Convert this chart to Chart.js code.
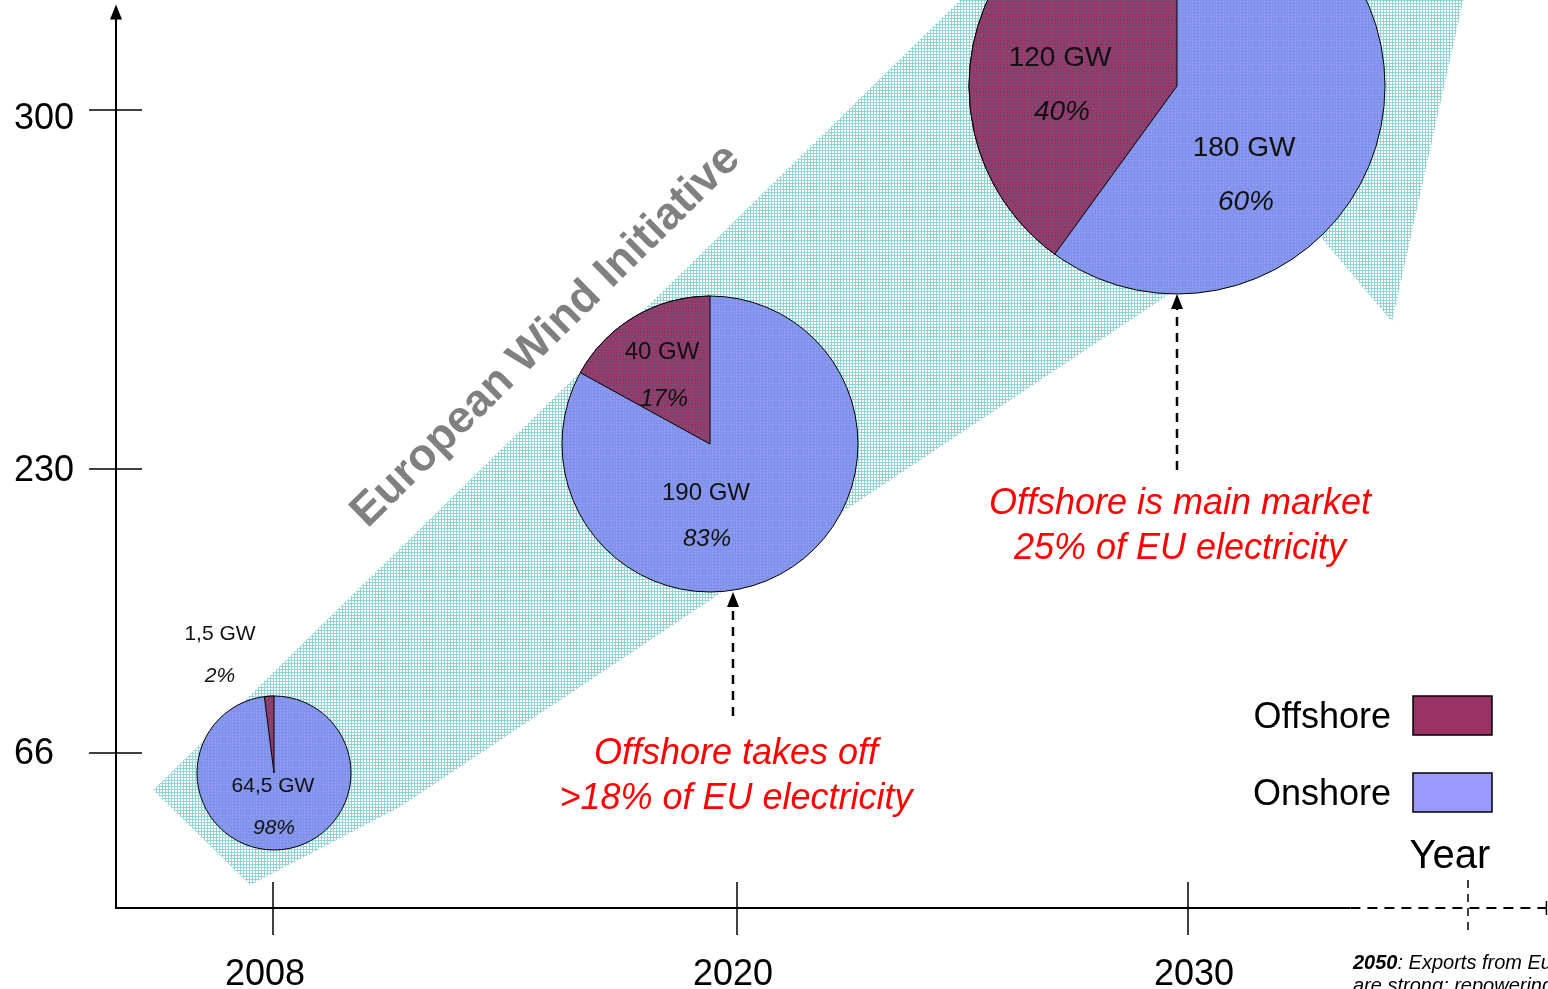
<!DOCTYPE html>
<html>
<head>
<meta charset="utf-8">
<script src="https://cdn.jsdelivr.net/npm/chart.js@4.4.1/dist/chart.umd.min.js"></script>
<style>
  html, body { margin: 0; padding: 0; background: #fff; overflow: hidden; }
</style>
</head>
<body>
<canvas id="windChart" width="1548" height="989"></canvas>
<script>
// ---- data ----
const years = [2008, 2020, 2030];
const yearLabels = ['2008', '2020', '2030'];
const totalGW = [66, 230, 300];
const offshoreGW = [1.5, 40, 120];
const onshoreGW = [64.5, 190, 180];
const offshoreShare = [2, 17, 40];
const onshoreShare = [98, 83, 60];
const yTicks = [66, 230, 300];
const seriesNames = ['Offshore', 'Onshore'];
const calloutYears = [2020, 2030];
const calloutText = [
  ['Offshore takes off', '>18% of EU electricity'],
  ['Offshore is main market', '25% of EU electricity']
];
const bannerText = 'European Wind Initiative';
const farYear = 2050;
const farNote = [': Exports from Europe', 'are strong; repowering'];

// outline of the big "growth" arrow, in (year, GW) units
const bandX = [2004.90, 2007.41, 2011.28, 2037.79, 2044.57, 2050.93, 2026.76];
const bandY = [50.2, 9.8, 43.0, 280.7, 258.7, 337.0, 337.0];

// ---- styles / layout ----
const FONT = '"Liberation Sans", Arial, Helvetica, sans-serif';
const offColor = '#993366';
const onColor = '#9999ff';

const pieStyle = {
  radius: [77, 148, 208],
  nudge: [[1, 20], [-27, -25], [-11, -24]],
  font: [21, 24, 28],
  // offsets from pie centre: offshore GW, offshore %, onshore GW, onshore %
  labels: [
    [[-54, -139], [-54, -97], [-1, 13], [0, 55]],
    [[-48, -92], [-46, -45], [-4, 49], [-3, 95]],
    [[-117, -28], [-115, 26], [67, 62], [69, 116]]
  ]
};
const calloutStyle = [
  { arrowDx: -4, arrowLen: 124, textDx: -1, gap: 48 },
  { arrowDx: -11, arrowLen: 176, textDx: -8, gap: 44 }
];
const axisStyle = {
  yAxisYear: 2003.94, yTop: 320, solidTo: 2041.6, dashedTo: 2055.6, labelX: 14,
  yLabelDy: [-1, 0, 7], xLabelDx: [-8, -4, 6]
};

// piecewise scale: the original axes are schematic, not linear
class PiecewiseScale extends Chart.LinearScale {
  static id = 'piecewise';
  static defaults = {};
  getPixelForValue(value) {
    const v = this.options.anchors.values, p = this.options.anchors.pixels;
    let i = 0;
    while (i < v.length - 2 && value > v[i + 1]) i++;
    const t = (value - v[i]) / (v[i + 1] - v[i]);
    return p[i] + t * (p[i + 1] - p[i]);
  }
  getValueForPixel(pixel) {
    const v = this.options.anchors.values, p = this.options.anchors.pixels;
    const dir = p[1] > p[0] ? 1 : -1;
    let i = 0;
    while (i < p.length - 2 && (pixel - p[i + 1]) * dir > 0) i++;
    const t = (pixel - p[i]) / (p[i + 1] - p[i]);
    return v[i] + t * (v[i + 1] - v[i]);
  }
}
Chart.register(PiecewiseScale);

// small-grid texture, optionally over a solid base colour
function makeHatch(base, grid) {
  const c = document.createElement('canvas');
  c.width = 3; c.height = 3;
  const g = c.getContext('2d');
  if (base) {
    g.fillStyle = base;
    g.fillRect(0, 0, 3, 3);
  }
  g.fillStyle = grid;
  g.fillRect(0, 0, 3, 1);
  g.fillRect(0, 1, 1, 2);
  return g.createPattern(c, 'repeat');
}
const bandFill = makeHatch(null, 'rgba(60,175,175,0.55)');
const onFill = makeHatch('#9494fa', 'rgba(40,150,160,0.27)');
const offFill = makeHatch(offColor, 'rgba(40,150,160,0.22)');

const fmt = n => String(n).replace('.', ',');

const pieNudge = {
  id: 'pieNudge',
  afterDatasetsUpdate(chart) {
    chart.getSortedVisibleDatasetMetas().forEach(meta => {
      if (meta.type !== 'bubble') return;
      meta.data.forEach((el, i) => {
        el.x += pieStyle.nudge[i][0];
        el.y += pieStyle.nudge[i][1];
      });
    });
  }
};

const offshoreSlices = {
  id: 'offshoreSlices',
  afterDatasetDraw(chart, args) {
    if (args.meta.type !== 'bubble') return;
    const ctx = chart.ctx;
    args.meta.data.forEach((el, i) => {
      const r = el.options.radius;
      const a0 = -Math.PI / 2;
      const a1 = a0 - 2 * Math.PI * offshoreShare[i] / 100;
      ctx.save();
      ctx.beginPath();
      ctx.moveTo(el.x, el.y);
      ctx.arc(el.x, el.y, r, a0, a1, true);
      ctx.closePath();
      ctx.fillStyle = offFill;
      ctx.fill();
      ctx.lineWidth = 1;
      ctx.strokeStyle = '#000';
      ctx.stroke();
      ctx.restore();
    });
  }
};

function dashedArrow(ctx, x, yTop, yBottom) {
  ctx.save();
  ctx.strokeStyle = '#000';
  ctx.lineWidth = 2.5;
  ctx.setLineDash([9, 7]);
  ctx.beginPath();
  ctx.moveTo(x, yBottom);
  ctx.lineTo(x, yTop + 12);
  ctx.stroke();
  ctx.setLineDash([]);
  ctx.fillStyle = '#000';
  ctx.beginPath();
  ctx.moveTo(x, yTop);
  ctx.lineTo(x - 6, yTop + 15);
  ctx.lineTo(x + 6, yTop + 15);
  ctx.closePath();
  ctx.fill();
  ctx.restore();
}

const decorations = {
  id: 'decorations',
  afterDatasetsDraw(chart) {
    const ctx = chart.ctx;
    const xs = chart.scales.x, ys = chart.scales.y;
    const axisY = ys.getPixelForValue(0);
    const axisX = xs.getPixelForValue(axisStyle.yAxisYear);
    const pies = chart.getDatasetMeta(0).data;

    ctx.save();
    // pie labels
    pies.forEach((el, i) => {
      const off = pieStyle.labels[i];
      const fs = pieStyle.font[i];
      const texts = [fmt(offshoreGW[i]) + ' GW', offshoreShare[i] + '%', fmt(onshoreGW[i]) + ' GW', onshoreShare[i] + '%'];
      ctx.fillStyle = '#111';
      ctx.textAlign = 'center';
      ctx.textBaseline = 'middle';
      texts.forEach((t, k) => {
        ctx.font = (k % 2 ? 'italic ' : '') + fs + 'px ' + FONT;
        ctx.fillText(t, el.x + off[k][0], el.y + off[k][1]);
      });
    });

    // banner
    ctx.save();
    ctx.translate(546, 336);
    ctx.rotate(-44.5 * Math.PI / 180);
    ctx.font = 'bold 45px ' + FONT;
    ctx.fillStyle = '#808080';
    ctx.textAlign = 'center';
    ctx.textBaseline = 'middle';
    ctx.fillText(bannerText, 0, 0);
    ctx.restore();

    // axes
    ctx.strokeStyle = '#000';
    ctx.fillStyle = '#000';
    ctx.lineWidth = 2;
    const topY = ys.getPixelForValue(axisStyle.yTop);
    ctx.beginPath();
    ctx.moveTo(axisX, axisY + 1);
    ctx.lineTo(axisX, topY + 8);
    ctx.moveTo(axisX, axisY);
    ctx.lineTo(xs.getPixelForValue(axisStyle.solidTo), axisY);
    ctx.stroke();
    ctx.beginPath();
    ctx.moveTo(axisX, topY - 3);
    ctx.lineTo(axisX - 6, topY + 12);
    ctx.lineTo(axisX + 6, topY + 12);
    ctx.closePath();
    ctx.fill();

    ctx.save();
    ctx.setLineDash([10, 7]);
    ctx.beginPath();
    ctx.moveTo(xs.getPixelForValue(axisStyle.solidTo), axisY);
    ctx.lineTo(xs.getPixelForValue(axisStyle.dashedTo), axisY);
    ctx.stroke();
    ctx.lineWidth = 1.5;
    const fx = xs.getPixelForValue(farYear);
    ctx.setLineDash([8, 6]);
    ctx.beginPath();
    ctx.moveTo(fx, axisY - 28);
    ctx.lineTo(fx, axisY + 28);
    ctx.stroke();
    ctx.restore();
    const endX = xs.getPixelForValue(axisStyle.dashedTo);
    ctx.lineWidth = 1.5;
    ctx.beginPath();
    ctx.moveTo(endX, axisY - 7);
    ctx.lineTo(endX, axisY + 7);
    ctx.stroke();

    // y ticks
    ctx.font = '36px ' + FONT;
    ctx.textAlign = 'left';
    ctx.textBaseline = 'middle';
    yTicks.forEach((v, i) => {
      const py = ys.getPixelForValue(v);
      ctx.beginPath();
      ctx.moveTo(axisX - 27, py);
      ctx.lineTo(axisX + 26, py);
      ctx.stroke();
      ctx.fillText(String(v), axisStyle.labelX, py + 2 + axisStyle.yLabelDy[i]);
    });

    // x ticks
    ctx.textAlign = 'center';
    ctx.textBaseline = 'alphabetic';
    years.forEach((yr, i) => {
      const px = xs.getPixelForValue(yr);
      ctx.beginPath();
      ctx.moveTo(px, axisY - 26);
      ctx.lineTo(px, axisY + 27);
      ctx.stroke();
      ctx.fillText(yearLabels[i], px + axisStyle.xLabelDx[i], axisY + 77);
    });

    // axis title
    ctx.font = '40px ' + FONT;
    ctx.fillText('Year', fx - 18, axisY - 40);

    // legend
    ctx.font = '36px ' + FONT;
    ctx.textAlign = 'right';
    [offColor, onColor].forEach((col, i) => {
      const top = 696 + i * 77;
      ctx.fillStyle = '#000';
      ctx.fillText(seriesNames[i], 1391, top + 32);
      ctx.fillStyle = col;
      ctx.fillRect(1413, top, 79, 39);
      ctx.lineWidth = 1.5;
      ctx.strokeRect(1413, top, 79, 39);
    });

    // callouts
    calloutYears.forEach((yr, i) => {
      const st = calloutStyle[i];
      const el = pies[years.indexOf(yr)];
      const ax = xs.getPixelForValue(yr) + st.arrowDx;
      const aTop = el.y + el.options.radius;
      const aBottom = aTop + st.arrowLen;
      dashedArrow(ctx, ax, aTop, aBottom);
      ctx.font = 'italic 36px ' + FONT;
      ctx.fillStyle = '#ff0000';
      ctx.textAlign = 'center';
      calloutText[i].forEach((line, k) => {
        ctx.fillText(line, xs.getPixelForValue(yr) + st.textDx, aBottom + st.gap + k * 45);
      });
    });

    // 2050 note
    ctx.textAlign = 'left';
    ctx.fillStyle = '#000';
    ctx.font = 'bold italic 20px ' + FONT;
    const nx = fx - 115, ny = axisY + 61;
    ctx.fillText(String(farYear), nx, ny);
    const w = ctx.measureText(String(farYear)).width;
    ctx.font = 'italic 20px ' + FONT;
    ctx.fillText(farNote[0], nx + w, ny);
    ctx.fillText(farNote[1], nx, ny + 23);
    ctx.restore();
  }
};

new Chart(document.getElementById('windChart'), {
  type: 'bubble',
  data: {
    datasets: [
      {
        label: 'Pies',
        data: years.map((yr, i) => ({ x: yr, y: totalGW[i] })),
        backgroundColor: onFill,
        borderColor: '#000',
        borderWidth: 1,
        radius: ctx => pieStyle.radius[ctx.dataIndex],
        order: 1
      },
      {
        type: 'line',
        label: 'Band',
        data: bandX.map((x, i) => ({ x: x, y: bandY[i] })),
        backgroundColor: bandFill,
        borderWidth: 0,
        pointRadius: 0,
        fill: 'shape',
        tension: 0,
        order: 2
      }
    ]
  },
  options: {
    responsive: false,
    devicePixelRatio: 1,
    animation: false,
    events: [],
    layout: { padding: 0, autoPadding: false },
    plugins: { legend: { display: false }, tooltip: { enabled: false } },
    scales: {
      x: {
        type: 'piecewise', display: false, min: 2000, max: 2060,
        anchors: { values: [2008, 2020, 2030, 2050], pixels: [273, 737, 1188, 1468] }
      },
      y: {
        type: 'piecewise', display: false, min: -40, max: 340,
        anchors: { values: [0, 66, 230, 300], pixels: [908, 753, 469, 110] }
      }
    }
  },
  plugins: [pieNudge, offshoreSlices, decorations]
});
</script>
</body>
</html>
